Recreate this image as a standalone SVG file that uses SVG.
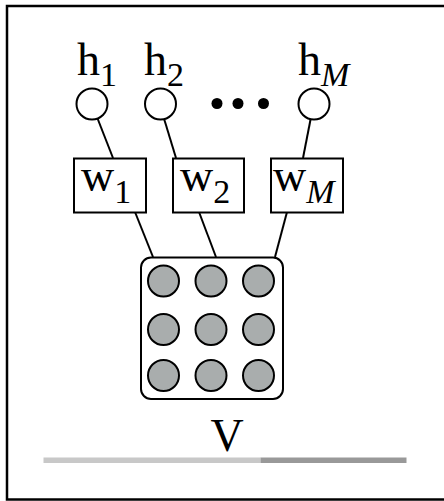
<svg xmlns="http://www.w3.org/2000/svg" width="444" height="501" viewBox="0 0 444 501">
<style>
.t{font-family:"Liberation Serif","Times New Roman",serif;font-size:46px;fill:#000}
.s{font-size:34px}
.i{font-style:italic}
.ln{stroke:#000;stroke-width:2;fill:none}
.hn{fill:#fff;stroke:#000;stroke-width:2}
.wb{fill:#fff;stroke:#000;stroke-width:2}
.v{fill:#a9adad;stroke:#000;stroke-width:2}
</style>
<rect x="0" y="0" width="444" height="501" fill="#fff"/>
<rect x="7" y="6" width="460" height="493.5" fill="none" stroke="#000" stroke-width="2.5"/>
<g id="connectors">
<line class="ln" x1="95" y1="112" x2="113" y2="158"/>
<line class="ln" x1="162" y1="112" x2="176" y2="158"/>
<line class="ln" x1="312" y1="112" x2="303" y2="158"/>
<line class="ln" x1="135" y1="212" x2="153" y2="257"/>
<line class="ln" x1="199" y1="212" x2="216" y2="257"/>
<line class="ln" x1="287" y1="212" x2="275" y2="257"/>
</g>
<g id="h1"><circle class="hn" cx="92" cy="104" r="15.5"/><text class="t" x="77" y="75">h<tspan class="s" dy="11">1</tspan></text></g>
<g id="h2"><circle class="hn" cx="160.5" cy="104" r="15.5"/><text class="t" x="144" y="75">h<tspan class="s" dy="11">2</tspan></text></g>
<g id="dots"><circle cx="217" cy="103.5" r="5.5"/><circle cx="238" cy="103.5" r="5.5"/><circle cx="263.5" cy="103.5" r="5.5"/></g>
<g id="hM"><circle class="hn" cx="314" cy="104" r="15.5"/><text class="t" x="298" y="75">h<tspan class="s i" dy="11">M</tspan></text></g>
<g id="w1"><rect class="wb" x="74" y="158.5" width="72" height="54"/><text class="t" x="81" y="191">w<tspan class="s" dy="12">1</tspan></text></g>
<g id="w2"><rect class="wb" x="173" y="158.5" width="71" height="54"/><text class="t" x="180" y="191">w<tspan class="s" dy="12">2</tspan></text></g>
<g id="wM"><rect class="wb" x="271" y="158.5" width="72" height="54"/><text class="t" x="273" y="191">w<tspan class="s i" dy="12">M</tspan></text></g>
<g id="V">
<rect x="141" y="257.5" width="142" height="141.5" rx="10" fill="#fff" stroke="#000" stroke-width="2"/>
<circle class="v" cx="163.5" cy="281" r="15.5"/><circle class="v" cx="211" cy="281" r="15.5"/><circle class="v" cx="258.5" cy="281" r="15.5"/>
<circle class="v" cx="163.5" cy="329.5" r="15.5"/><circle class="v" cx="211" cy="329.5" r="15.5"/><circle class="v" cx="258.5" cy="329.5" r="15.5"/>
<circle class="v" cx="163.5" cy="375.5" r="15.5"/><circle class="v" cx="211" cy="375.5" r="15.5"/><circle class="v" cx="258.5" cy="375.5" r="15.5"/>
<text class="t" x="227" y="451" text-anchor="middle">V</text>
</g>
<g id="bar">
<rect x="43.5" y="457.5" width="217" height="5.5" fill="#c8c8c8"/>
<rect x="260.5" y="457.5" width="146" height="5.5" fill="#999"/>
</g>
</svg>
